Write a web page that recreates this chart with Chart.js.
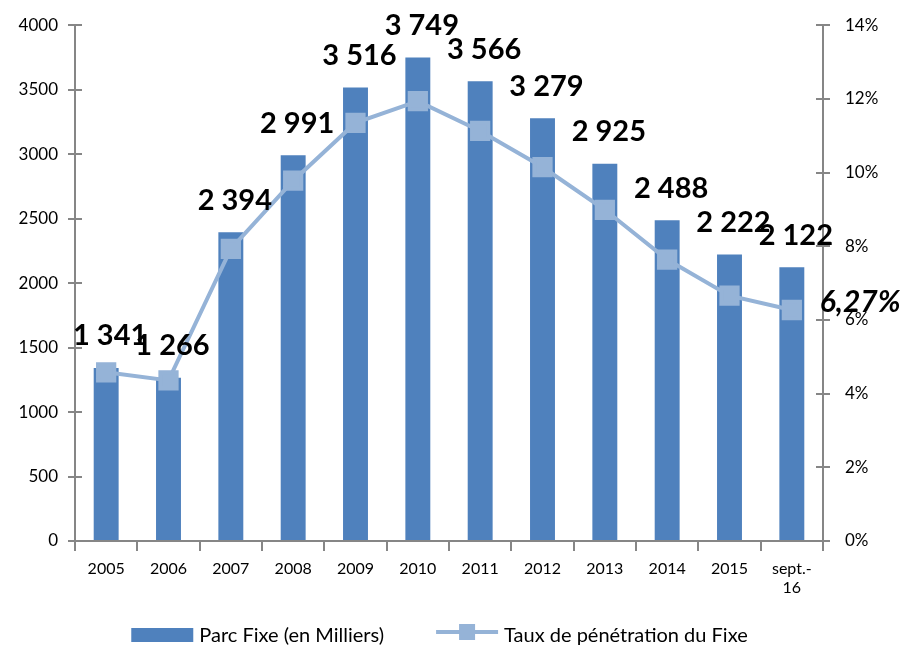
<!DOCTYPE html>
<html><head><meta charset="utf-8">
<script src="https://cdn.jsdelivr.net/npm/chart.js@4"></script>
<style>html,body{margin:0;padding:0;background:#fff}#wrap{width:905px;height:648px}</style>
</head><body><div id="wrap"><canvas id="c" width="905" height="648"></canvas></div>
<script>
const categories = ['2005','2006','2007','2008','2009','2010','2011','2012','2013','2014','2015',['sept.-','16']];
const parcFixe = [1341,1266,2394,2991,3516,3749,3566,3279,2925,2488,2222,2122];
const tauxPenetration = [4.58,4.36,7.93,9.78,11.35,11.94,11.13,10.15,8.99,7.64,6.66,6.27];
const lastRateLabel = '6,27%';
const seriesNames = ['Parc Fixe (en Milliers)','Taux de pénétration du Fixe'];

const FONT = "Lato, 'Open Sans', sans-serif";
const LINE_COLOR = '#95B3D7';
const BAR_COLOR = '#4F81BD';
const AXIS_COLOR = '#868686';
const fmt = v => String(v).replace(/\B(?=(\d{3})+(?!\d))/g,' ');

const labelPlugin = {
  id:'labels',
  afterDatasetsDraw(chart){
    const ctx = chart.ctx;
    const barMeta = chart.getDatasetMeta(1);
    ctx.save();
    ctx.fillStyle = '#000';
    ctx.font = "bold 29px " + FONT;
    ctx.textAlign = 'center';
    ctx.textBaseline = 'middle';
    barMeta.data.forEach((el,i)=>{
      ctx.fillText(fmt(parcFixe[i]), el.x+4, el.y-32);
    });
    const lineMeta = chart.getDatasetMeta(0);
    const last = lineMeta.data[lineMeta.data.length-1];
    ctx.font = "italic bold 30px " + FONT;
    ctx.textAlign = 'left';
    ctx.fillText(lastRateLabel, last.x+28, last.y-8);
    ctx.restore();
  },
  afterDraw(chart){
    const ctx = chart.ctx;
    const ca = chart.chartArea;
    // inner half of the crossing tick marks
    ctx.save();
    ctx.strokeStyle = AXIS_COLOR; ctx.lineWidth = 2;
    ctx.beginPath();
    chart.scales.y.ticks.forEach(t=>{
      const py = Math.round(chart.scales.y.getPixelForValue(t.value));
      ctx.moveTo(ca.left, py); ctx.lineTo(ca.left+7, py);
    });
    chart.scales.y1.ticks.forEach(t=>{
      const py = Math.round(chart.scales.y1.getPixelForValue(t.value));
      ctx.moveTo(ca.right, py); ctx.lineTo(ca.right-7, py);
    });
    ctx.stroke();
    ctx.restore();

    // legend drawn at the bottom, centred
    ctx.save();
    ctx.font = "20px " + FONT;
    ctx.textBaseline = 'middle';
    const bw = 62, gapT = 6, gapItems = 52;
    const w1 = ctx.measureText(seriesNames[0]).width;
    const w2 = ctx.measureText(seriesNames[1]).width;
    const total = bw + gapT + w1 + gapItems + bw + gapT + w2;
    let x = chart.width/2 - 13 - total/2;
    const cy = 635;
    ctx.fillStyle = BAR_COLOR;
    ctx.fillRect(x, cy-7, bw, 14);
    x += bw + gapT;
    ctx.fillStyle = '#000';
    ctx.fillText(seriesNames[0], x, cy+1);
    x += w1 + gapItems;
    ctx.strokeStyle = LINE_COLOR; ctx.lineWidth = 4;
    ctx.beginPath(); ctx.moveTo(x, cy-3); ctx.lineTo(x+bw, cy-3); ctx.stroke();
    ctx.fillStyle = LINE_COLOR;
    ctx.fillRect(x+bw/2-8, cy-11, 16, 16);
    x += bw + gapT;
    ctx.fillStyle = '#000';
    ctx.fillText(seriesNames[1], x, cy+1);
    ctx.restore();
  }
};

new Chart(document.getElementById('c'), {
  data:{
    labels: categories,
    datasets:[
      {type:'line', label:seriesNames[1], data:tauxPenetration, yAxisID:'y1',
       borderColor:LINE_COLOR, backgroundColor:LINE_COLOR, borderWidth:4,
       pointStyle:'rect', pointRadius:11.5, pointHoverRadius:11.5,
       pointBackgroundColor:LINE_COLOR, pointBorderColor:LINE_COLOR, tension:0, order:0},
      {type:'bar', label:seriesNames[0], data:parcFixe, yAxisID:'y',
       backgroundColor:BAR_COLOR, categoryPercentage:1, barPercentage:0.4, order:1}
    ]
  },
  options:{
    responsive:false, animation:false,
    layout:{padding:{top:14,right:0,left:0,bottom:47}},
    plugins:{
      tooltip:{enabled:false},
      legend:{display:false}
    },
    scales:{
      x:{grid:{display:true, drawOnChartArea:false, offset:true, color:AXIS_COLOR, tickLength:10, lineWidth:2},
         border:{color:AXIS_COLOR, width:2},
         afterFit(s){ s.height = 60; },
         ticks:{font:{family:FONT,size:16}, color:'#000', maxRotation:0, padding:8}},
      y:{position:'left', min:0, max:4000,
         afterFit(s){ s.width = 75; },
         ticks:{stepSize:500, font:{family:FONT,size:17}, color:'#000', padding:10, callback:v=>String(v)},
         grid:{drawOnChartArea:false, color:AXIS_COLOR, tickLength:7, lineWidth:2},
         border:{color:AXIS_COLOR, width:2}},
      y1:{position:'right', min:0, max:14,
         afterFit(s){ s.width = 82; },
         ticks:{stepSize:2, font:{family:FONT,size:17}, color:'#000', padding:15, callback:v=>v+'%'},
         grid:{drawOnChartArea:false, color:AXIS_COLOR, tickLength:7, lineWidth:2},
         border:{color:AXIS_COLOR, width:2}}
    }
  },
  plugins:[labelPlugin]
});
</script></body></html>
